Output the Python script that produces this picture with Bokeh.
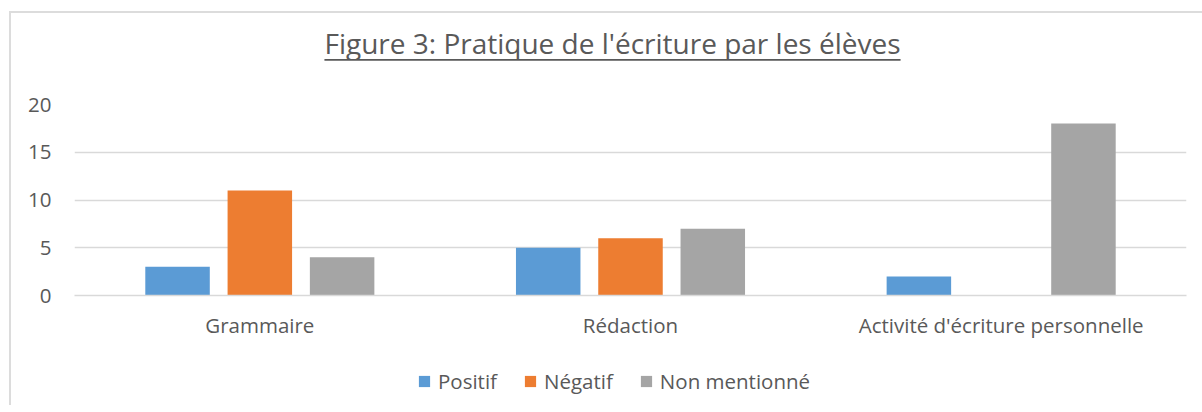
from bokeh.plotting import figure
from bokeh.models import (ColumnDataSource, FactorRange, Range1d, Legend, LegendItem,
                          FixedTicker, Div)
from bokeh.layouts import column
from bokeh.transform import dodge
from bokeh.embed import file_html
from bokeh.resources import INLINE

categories = ["Grammaire", "Rédaction", "Activité d'écriture personnelle"]
series = ["Positif", "Négatif", "Non mentionné"]
positif = [3, 5, 2]
negatif = [11, 6, 0]
non_mentionne = [4, 7, 18]
colors = ["#5b9bd5", "#ed7d31", "#a5a5a5"]
y_ticks = [0, 5, 10, 15, 20]
title_text = "Figure 3: Pratique de l'écriture par les élèves"

FONT = "Open Sans"
TXT = "#595959"
GRID = "#d9d9d9"
LBL = "20.5px"

src = ColumnDataSource(data=dict(cat=categories, s0=positif, s1=negatif, s2=non_mentionne))

title_div = Div(
    text=(f'<div style="box-sizing:border-box;width:1191px;height:47px;padding-top:12px;'
          f'padding-left:12px;text-align:center;font-family:\'{FONT}\';font-size:28px;'
          f'line-height:36px;color:{TXT};white-space:nowrap;">'
          f'<span style="text-decoration:underline;text-decoration-thickness:2px;'
          f'text-decoration-skip-ink:none;text-underline-offset:5px;">{title_text}</span></div>'),
    width=1191, height=47, margin=0,
)

p = figure(
    x_range=FactorRange(*categories, range_padding=0),
    y_range=Range1d(0, 20),
    frame_width=1112, frame_height=191,
    output_backend="svg", toolbar_location=None,
    min_border_left=63, min_border_right=16, min_border_top=44, min_border_bottom=60,
    outline_line_color=None, margin=0,
)

offsets = [-0.222, 0.0, 0.222]
for i, col in enumerate(colors):
    p.vbar(x=dodge("cat", offsets[i], range=p.x_range), top=f"s{i}", width=0.174,
           source=src, fill_color=col, line_color=None)

p.yaxis.ticker = FixedTicker(ticks=y_ticks)
p.yaxis.axis_line_color = None
p.yaxis.major_tick_line_color = None
p.yaxis.minor_tick_line_color = None
p.yaxis.major_label_standoff = 17
p.yaxis.major_label_text_font = FONT
p.yaxis.major_label_text_font_size = LBL
p.yaxis.major_label_text_color = TXT

p.xaxis.axis_line_color = GRID
p.xaxis.axis_line_width = 1.5
p.xaxis.major_tick_line_color = None
p.xaxis.minor_tick_line_color = None
p.xaxis.major_label_standoff = 9
p.xaxis.major_label_text_font = FONT
p.xaxis.major_label_text_font_size = LBL
p.xaxis.major_label_text_color = TXT

p.xgrid.grid_line_color = None
p.ygrid.grid_line_color = GRID
p.ygrid.grid_line_width = 1.5
p.ygrid.ticker = FixedTicker(ticks=y_ticks)

# legend strip below the chart (its own small canvas); swatch proxies have zero height
lg = figure(width=1191, height=50, x_range=Range1d(0, 1), y_range=Range1d(0, 1),
            x_axis_type=None, y_axis_type=None, output_backend="svg",
            toolbar_location=None, min_border=0, outline_line_color=None, margin=0)
lg.xgrid.visible = False
lg.ygrid.visible = False
items = []
for name, col in zip(series, colors):
    r = lg.vbar(x=[0.5], top=[0], bottom=[0], width=0.0, fill_color=col, line_color=None)
    items.append(LegendItem(label=name, renderers=[r], index=0))
legend = Legend(items=items, orientation="horizontal", location=(343, 10),
                label_text_font=FONT, label_text_font_size=LBL, label_text_color=TXT,
                glyph_width=14, glyph_height=14, label_standoff=7, spacing=26,
                margin=0, padding=0, border_line_color=None, background_fill_alpha=0)
lg.add_layout(legend)

layout = column(title_div, p, lg, margin=0,
                styles={"border-top": "2px solid #dcdcdc", "border-left": "2px solid #dcdcdc",
                        "margin-left": "9px", "margin-top": "11px"})

open("out.html", "w").write(file_html(layout, INLINE))
